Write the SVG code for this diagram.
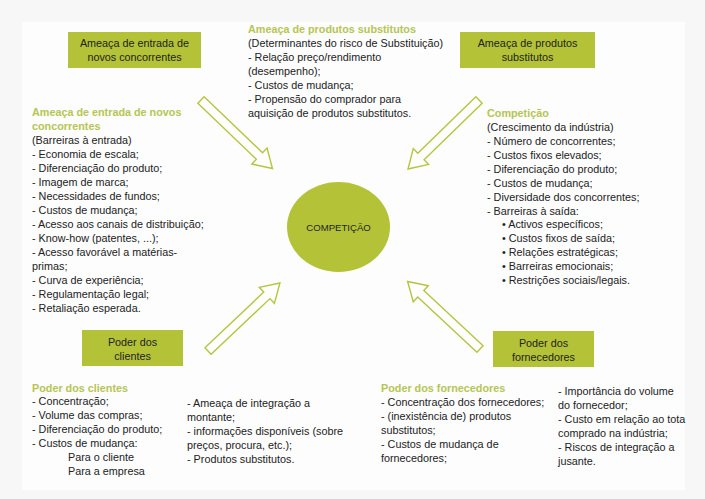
<svg xmlns="http://www.w3.org/2000/svg" width="705" height="499" viewBox="0 0 705 499">
<defs>
<style>
text{font-family:"Liberation Sans",Arial,sans-serif;font-size:10.8px;fill:#222222}
.h{fill:#b6c553;font-weight:bold}
.c{text-anchor:middle}
.box{fill:#b4c238}
.arr{fill:#ffffff;stroke:#b6c43e;stroke-width:1.4;stroke-linejoin:miter}
</style>
<polygon id="arrow" points="0,-4.5 81,-4.5 81,-11 99,0 81,11 81,4.5 0,4.5"/>
</defs>
<rect x="0" y="0" width="705" height="499" fill="#f7f7f7"/>
<rect x="22" y="22" width="663" height="468" fill="#fdfdfd"/>

<g id="connectors">
<use href="#arrow" class="arr" transform="translate(201,100) rotate(43.8)"/>
<use href="#arrow" class="arr" transform="translate(479,100) rotate(135.8)"/>
<use href="#arrow" class="arr" transform="translate(208,351) rotate(-43.4)"/>
<use href="#arrow" class="arr" transform="translate(480,349) rotate(-137)"/>
</g>

<g id="competicao">
<ellipse cx="338.5" cy="227" rx="51.5" ry="45" class="box"/>
<text x="338.5" y="230.5" class="c" style="font-size:9.6px">COMPETIÇÃO</text>
</g>

<g id="box-entrada">
<rect x="68" y="32" width="133" height="36" class="box"/>
<text x="134.5" y="47" class="c">Ameaça de entrada de</text>
<text x="134.5" y="61" class="c">novos concorrentes</text>
</g>

<g id="box-substitutos">
<rect x="460" y="32" width="135" height="36" class="box"/>
<text x="527.5" y="47" class="c">Ameaça de produtos</text>
<text x="527.5" y="61" class="c">substitutos</text>
</g>

<g id="box-clientes">
<rect x="82" y="330" width="101" height="36" class="box"/>
<text x="132.5" y="346" class="c">Poder dos</text>
<text x="132.5" y="360" class="c">clientes</text>
</g>

<g id="box-fornecedores">
<rect x="493" y="331" width="101" height="36" class="box"/>
<text x="543.5" y="347" class="c">Poder dos</text>
<text x="543.5" y="361" class="c">fornecedores</text>
</g>

<g id="text-entrada">
<text x="32" y="116" class="h">Ameaça de entrada de novos</text>
<text x="32" y="130" class="h">concorrentes</text>
<text x="32" y="144">(Barreiras à entrada)</text>
<text x="32" y="158">- Economia de escala;</text>
<text x="32" y="172">- Diferenciação do produto;</text>
<text x="32" y="186">- Imagem de marca;</text>
<text x="32" y="200">- Necessidades de fundos;</text>
<text x="32" y="214">- Custos de mudança;</text>
<text x="32" y="228">- Acesso aos canais de distribuição;</text>
<text x="32" y="242">- Know-how (patentes, ...);</text>
<text x="32" y="256">- Acesso favorável a matérias-</text>
<text x="32" y="270">primas;</text>
<text x="32" y="284">- Curva de experiência;</text>
<text x="32" y="298">- Regulamentação legal;</text>
<text x="32" y="312">- Retaliação esperada.</text>
</g>

<g id="text-substitutos">
<text x="248" y="33" class="h">Ameaça de produtos substitutos</text>
<text x="248" y="47">(Determinantes do risco de Substituição)</text>
<text x="248" y="61">- Relação preço/rendimento</text>
<text x="248" y="75">(desempenho);</text>
<text x="248" y="89">- Custos de mudança;</text>
<text x="248" y="103">- Propensão do comprador para</text>
<text x="248" y="117">aquisição de produtos substitutos.</text>
</g>

<g id="text-competicao">
<text x="487" y="117" class="h">Competição</text>
<text x="487" y="131">(Crescimento da indústria)</text>
<text x="487" y="145">- Número de concorrentes;</text>
<text x="487" y="159">- Custos fixos elevados;</text>
<text x="487" y="173">- Diferenciação do produto;</text>
<text x="487" y="187">- Custos de mudança;</text>
<text x="487" y="201">- Diversidade dos concorrentes;</text>
<text x="487" y="215">- Barreiras à saída:</text>
<text x="502" y="228">• Activos específicos;</text>
<text x="502" y="242">• Custos fixos de saída;</text>
<text x="502" y="256">• Relações estratégicas;</text>
<text x="502" y="270">• Barreiras emocionais;</text>
<text x="502" y="284">• Restrições sociais/legais.</text>
</g>

<g id="text-clientes">
<text x="32" y="392" class="h">Poder dos clientes</text>
<text x="32" y="405">- Concentração;</text>
<text x="32" y="419">- Volume das compras;</text>
<text x="32" y="433">- Diferenciação do produto;</text>
<text x="32" y="447">- Custos de mudança:</text>
<text x="68" y="461">Para o cliente</text>
<text x="68" y="475">Para a empresa</text>
<text x="187" y="407">- Ameaça de integração a</text>
<text x="187" y="421">montante;</text>
<text x="187" y="435">- informações disponíveis (sobre</text>
<text x="187" y="449">preços, procura, etc.);</text>
<text x="187" y="463">- Produtos substitutos.</text>
</g>

<g id="text-fornecedores">
<text x="381" y="392" class="h">Poder dos fornecedores</text>
<text x="381" y="406">- Concentração dos fornecedores;</text>
<text x="381" y="420">- (inexistência de) produtos</text>
<text x="381" y="434">substitutos;</text>
<text x="381" y="448">- Custos de mudança de</text>
<text x="381" y="462">fornecedores;</text>
<text x="558" y="395">- Importância do volume</text>
<text x="558" y="409">do fornecedor;</text>
<text x="558" y="423">- Custo em relação ao tota</text>
<text x="558" y="437">comprado na indústria;</text>
<text x="558" y="451">- Riscos de integração a</text>
<text x="558" y="465">jusante.</text>
</g>
</svg>
